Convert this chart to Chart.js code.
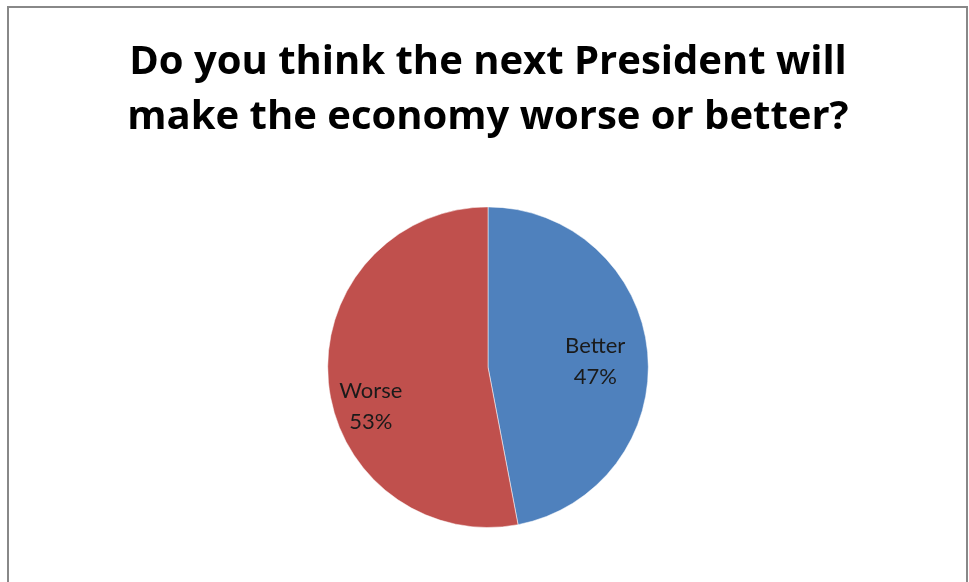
<!DOCTYPE html>
<html>
<head>
<meta charset="utf-8">
<script src="https://cdn.jsdelivr.net/npm/chart.js@4"></script>
<style>
  html, body { margin: 0; padding: 0; background: #fff; overflow: hidden; }
  #wrap { position: relative; width: 969px; height: 582px; }
  #frame {
    position: absolute; left: 7px; top: 6px; width: 961px; height: 620px;
    box-sizing: border-box; border: 2px solid #888;
  }
  canvas { position: absolute; left: 0; top: 0; }
</style>
</head>
<body>
<div id="wrap">
  <div id="frame"></div>
  <canvas id="myChartPie" width="969" height="582"></canvas>
</div>
<script>
// survey answers
const categories = ["Better", "Worse"];
const percents = [47, 53];
const sliceColors = ["#4F81BD", "#C0504D"];
const titleLines = [
  "Do you think the next President will",
  "make the economy worse or better?",
];

// where each label sits inside its slice: fraction of radius, angle tweak in degrees
const labelRadius = [0.67, 0.77];
const labelTurn = [2, -13];

// category name + percent written inside each slice
const sliceLabels = {
  id: "sliceLabels",
  afterDatasetsDraw(chart) {
    const c = chart.ctx;
    const meta = chart.getDatasetMeta(0);
    c.save();
    c.font = "22px Lato";
    c.fillStyle = "#1a1a1a";
    c.textAlign = "center";
    c.textBaseline = "middle";
    meta.data.forEach((arc, i) => {
      const p = arc.getProps(["x", "y", "startAngle", "endAngle", "outerRadius"], true);
      const mid = (p.startAngle + p.endAngle) / 2 + (labelTurn[i] * Math.PI) / 180;
      const r = p.outerRadius * labelRadius[i];
      const x = p.x + Math.cos(mid) * r;
      const y = p.y + Math.sin(mid) * r;
      c.fillText(categories[i], x, y - 15);
      c.fillText(percents[i] + "%", x, y + 16);
    });
    c.restore();
  },
};

const ctx = document.getElementById("myChartPie");

const pieChart = new Chart(ctx, {
  type: "pie",
  data: {
    labels: categories,
    datasets: [
      {
        data: percents,
        backgroundColor: sliceColors,
        borderColor: "rgba(255, 255, 255, 0.5)",
        borderWidth: 1,
      },
    ],
  },
  options: {
    responsive: false,
    animation: false,
    layout: {
      padding: { left: 7, right: 0, top: 0, bottom: 54 },
    },
    plugins: {
      legend: { display: false },
      tooltip: { enabled: false },
      title: {
        display: true,
        text: titleLines,
        color: "#000",
        font: { family: "Open Sans", size: 40, weight: "bold", lineHeight: 1.38 },
        padding: { top: 35, bottom: 61 },
      },
    },
  },
  plugins: [sliceLabels],
});
</script>
</body>
</html>
